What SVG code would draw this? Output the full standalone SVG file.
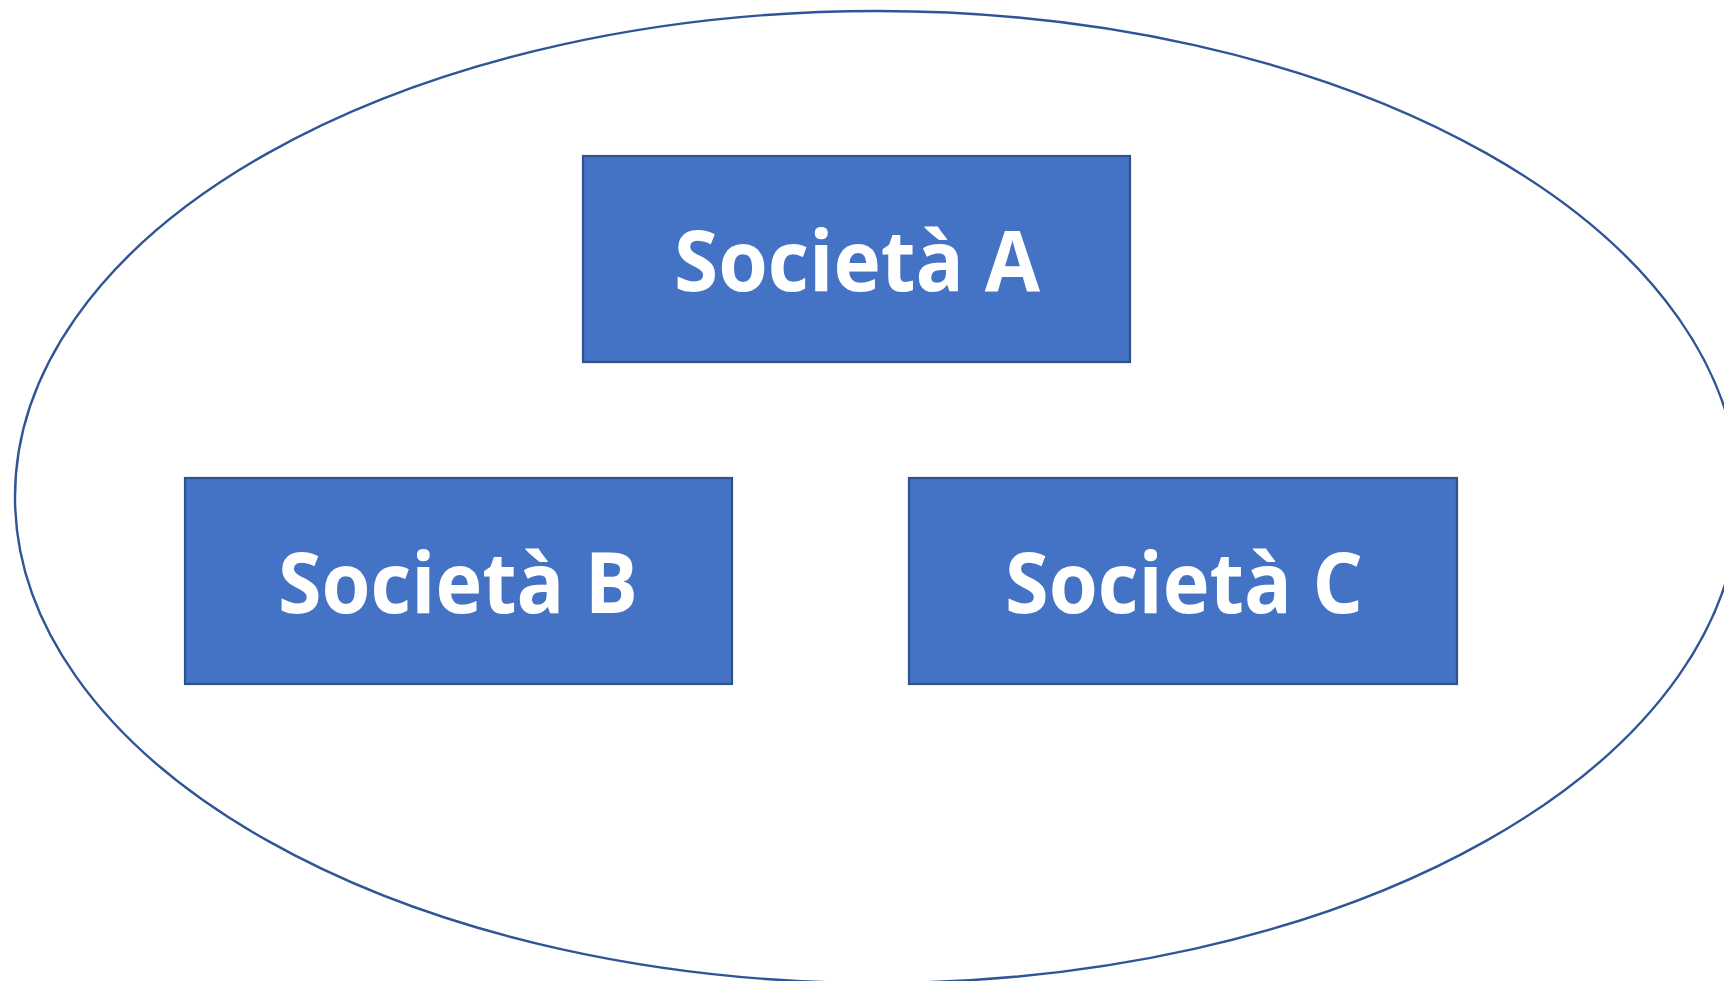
<svg xmlns="http://www.w3.org/2000/svg" width="1724" height="981" viewBox="0 0 1724 981">
<style>
.box{fill:#4472C4;stroke:#2F528F;stroke-width:2.2}
.lbl{fill:#FFFFFF;font-family:"Open Sans","Liberation Sans",sans-serif;font-weight:bold;font-size:84px;text-anchor:middle}
.ring{fill:none;stroke:#2F5597;stroke-width:2.4}
</style>
<rect width="1724" height="981" fill="#FFFFFF"/>
<g id="group-ellipse"><ellipse class="ring" cx="877" cy="497" rx="862" ry="486"/></g>
<g id="node-a"><rect class="box" x="583" y="156" width="547" height="206"/><text class="lbl" x="857" y="291" textLength="366" lengthAdjust="spacingAndGlyphs">Società A</text></g>
<g id="node-b"><rect class="box" x="185" y="478" width="547" height="206"/><text class="lbl" x="458" y="613" textLength="360" lengthAdjust="spacingAndGlyphs">Società B</text></g>
<g id="node-c"><rect class="box" x="909" y="478" width="548" height="206"/><text class="lbl" x="1184" y="613" textLength="358" lengthAdjust="spacingAndGlyphs">Società C</text></g>
<g id="connectors"></g>
</svg>
